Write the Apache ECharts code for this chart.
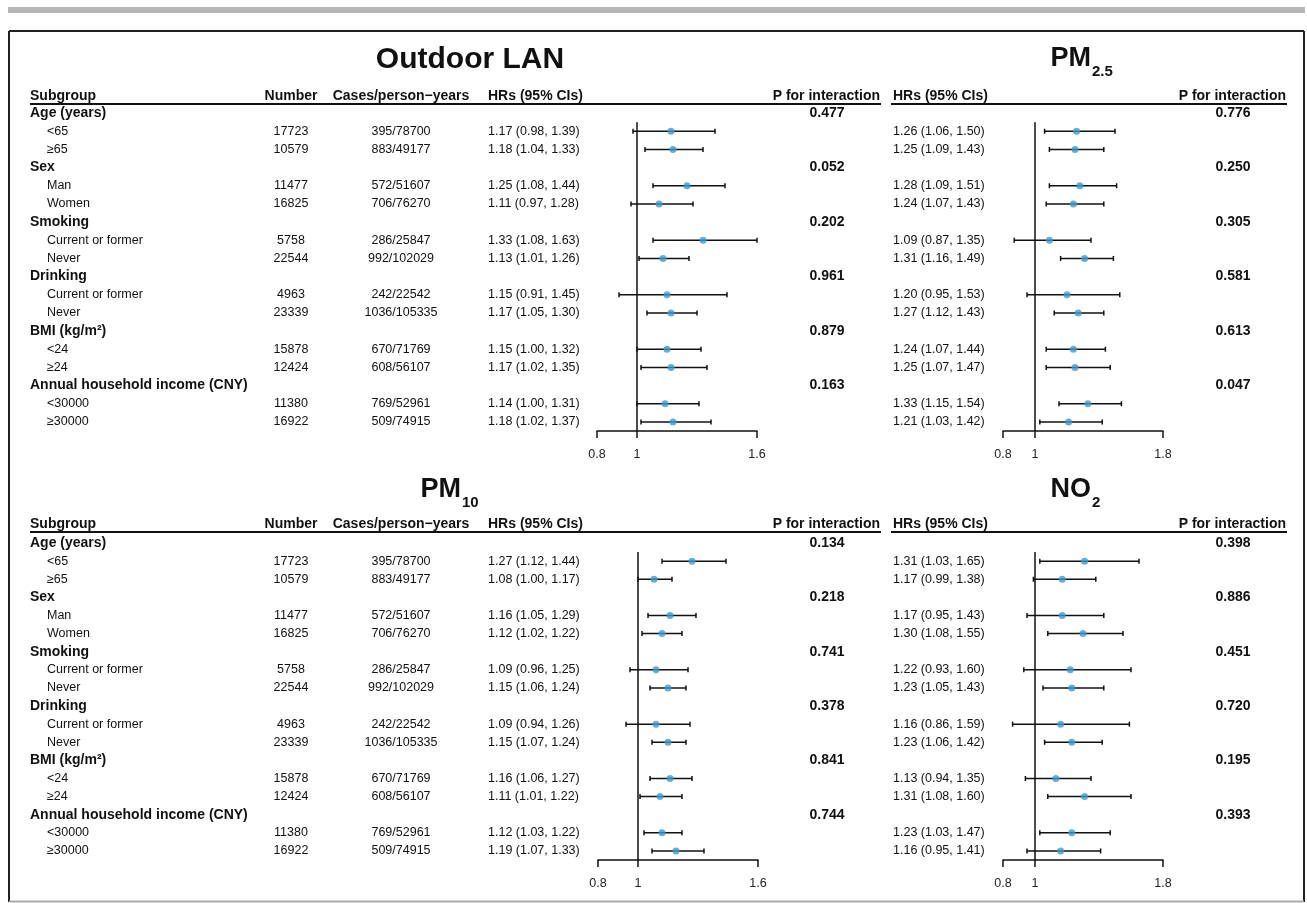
<!DOCTYPE html>
<html>
<head>
<meta charset="utf-8">
<script src="https://cdn.jsdelivr.net/npm/echarts@6/dist/echarts.min.js"></script>
<style>
html, body { margin: 0; padding: 0; background: #fff; }
#main { width: 1307px; height: 903px; }
</style>
</head>
<body>
<div id="main"></div>
<script>
// table rows (shared by all four panels)
var subgroups = ['Age (years)', '<65', '≥65', 'Sex', 'Man', 'Women', 'Smoking', 'Current or former', 'Never',
    'Drinking', 'Current or former', 'Never', 'BMI (kg/m²)', '<24', '≥24', 'Annual household income (CNY)', '<30000', '≥30000'];
var numbers = ['', '17723', '10579', '', '11477', '16825', '', '5758', '22544', '', '4963', '23339', '', '15878', '12424', '', '11380', '16922'];
var cases = ['', '395/78700', '883/49177', '', '572/51607', '706/76270', '', '286/25847', '992/102029', '',
    '242/22542', '1036/105335', '', '670/71769', '608/56107', '', '769/52961', '509/74915'];
var groupRows = [0, 3, 6, 9, 12, 15];

// Outdoor LAN
var lanHR   = [null, 1.17, 1.18, null, 1.25, 1.11, null, 1.33, 1.13, null, 1.15, 1.17, null, 1.15, 1.17, null, 1.14, 1.18];
var lanLow  = [null, 0.98, 1.04, null, 1.08, 0.97, null, 1.08, 1.01, null, 0.91, 1.05, null, 1.00, 1.02, null, 1.00, 1.02];
var lanHigh = [null, 1.39, 1.33, null, 1.44, 1.28, null, 1.63, 1.26, null, 1.45, 1.30, null, 1.32, 1.35, null, 1.31, 1.37];
var lanP = ['0.477', '0.052', '0.202', '0.961', '0.879', '0.163'];

// PM2.5
var pm25HR   = [null, 1.26, 1.25, null, 1.28, 1.24, null, 1.09, 1.31, null, 1.20, 1.27, null, 1.24, 1.25, null, 1.33, 1.21];
var pm25Low  = [null, 1.06, 1.09, null, 1.09, 1.07, null, 0.87, 1.16, null, 0.95, 1.12, null, 1.07, 1.07, null, 1.15, 1.03];
var pm25High = [null, 1.50, 1.43, null, 1.51, 1.43, null, 1.35, 1.49, null, 1.53, 1.43, null, 1.44, 1.47, null, 1.54, 1.42];
var pm25P = ['0.776', '0.250', '0.305', '0.581', '0.613', '0.047'];

// PM10
var pm10HR   = [null, 1.27, 1.08, null, 1.16, 1.12, null, 1.09, 1.15, null, 1.09, 1.15, null, 1.16, 1.11, null, 1.12, 1.19];
var pm10Low  = [null, 1.12, 1.00, null, 1.05, 1.02, null, 0.96, 1.06, null, 0.94, 1.07, null, 1.06, 1.01, null, 1.03, 1.07];
var pm10High = [null, 1.44, 1.17, null, 1.29, 1.22, null, 1.25, 1.24, null, 1.26, 1.24, null, 1.27, 1.22, null, 1.22, 1.33];
var pm10P = ['0.134', '0.218', '0.741', '0.378', '0.841', '0.744'];

// NO2
var no2HR   = [null, 1.31, 1.17, null, 1.17, 1.30, null, 1.22, 1.23, null, 1.16, 1.23, null, 1.13, 1.31, null, 1.23, 1.16];
var no2Low  = [null, 1.03, 0.99, null, 0.95, 1.08, null, 0.93, 1.05, null, 0.86, 1.06, null, 0.94, 1.08, null, 1.03, 0.95];
var no2High = [null, 1.65, 1.38, null, 1.43, 1.55, null, 1.60, 1.43, null, 1.59, 1.42, null, 1.35, 1.60, null, 1.47, 1.41];
var no2P = ['0.398', '0.886', '0.451', '0.720', '0.195', '0.393'];

// axis tick labels
var ticksLeft = [0.8, 1, 1.6];
var ticksRight = [0.8, 1, 1.8];

var FONT = '"Liberation Sans", Arial, Helvetica, sans-serif';
var INK = '#111';
var DOT = '#3a9bd5';

var panels = [
    {hr: lanHR, lo: lanLow, hi: lanHigh, p: lanP, ticks: ticksLeft, grid: {left: 597, top: 104, width: 160, height: 327}, hrX: 488, pX: 827, table: true},
    {hr: pm25HR, lo: pm25Low, hi: pm25High, p: pm25P, ticks: ticksRight, grid: {left: 1003, top: 104, width: 160, height: 327}, hrX: 893, pX: 1233},
    {hr: pm10HR, lo: pm10Low, hi: pm10High, p: pm10P, ticks: ticksLeft, grid: {left: 598, top: 534, width: 160, height: 326}, hrX: 488, pX: 827, table: true},
    {hr: no2HR, lo: no2Low, hi: no2High, p: no2P, ticks: ticksRight, grid: {left: 1003, top: 534, width: 160, height: 326}, hrX: 893, pX: 1233}
];

function textSeries(g, items, x, align, font) {
    return {
        type: 'custom', xAxisIndex: g, yAxisIndex: g, silent: true, clip: false, z: 3,
        data: items.map(function (it) { return [1, it.row]; }),
        renderItem: function (params, api) {
            var it = items[params.dataIndex];
            var y = api.coord([1, api.value(1)])[1];
            return {type: 'text', x: x, y: y, style: {text: it.text, font: font, fill: INK, align: align, verticalAlign: 'middle'}};
        }
    };
}

var grids = [], xAxes = [], yAxes = [], series = [];
var boldFont = 'bold 14px ' + FONT;
var rowFont = '12.5px ' + FONT;

panels.forEach(function (pn, g) {
    var tmin = pn.ticks[0], tmax = pn.ticks[pn.ticks.length - 1];
    grids.push(pn.grid);
    xAxes.push({
        gridIndex: g, type: 'value', min: tmin, max: tmax,
        axisLine: {show: true, onZero: false, lineStyle: {color: INK, width: 1.5}},
        axisTick: {show: true, customValues: pn.ticks, length: 7, inside: false, lineStyle: {color: INK, width: 1.5}},
        axisLabel: {customValues: pn.ticks, color: '#222', fontSize: 12.5, fontFamily: FONT, margin: 17},
        splitLine: {show: false}
    });
    yAxes.push({gridIndex: g, type: 'value', min: -0.5, max: 17.5, inverse: true, show: false});

    var rows = [];
    pn.hr.forEach(function (v, i) { if (v !== null) rows.push(i); });

    // reference line at HR = 1
    series.push({
        type: 'line', xAxisIndex: g, yAxisIndex: g, silent: true, symbol: 'none', z: 2,
        data: [[1, 0.5], [1, 17.5]],
        lineStyle: {color: INK, width: 1.5}
    });
    // confidence intervals
    series.push({
        type: 'custom', xAxisIndex: g, yAxisIndex: g, silent: true, clip: false, z: 4,
        data: rows.map(function (i) { return [pn.lo[i], pn.hi[i], i]; }),
        encode: {x: [0, 1], y: 2},
        renderItem: function (params, api) {
            var r = api.value(2);
            var a = api.coord([Math.max(api.value(0), tmin), r]);
            var b = api.coord([Math.min(api.value(1), tmax), r]);
            var st = {stroke: INK, lineWidth: 1.5};
            return {type: 'group', children: [
                {type: 'line', shape: {x1: a[0], y1: a[1], x2: b[0], y2: b[1]}, style: st},
                {type: 'line', shape: {x1: a[0], y1: a[1] - 2.5, x2: a[0], y2: a[1] + 2.5}, style: st},
                {type: 'line', shape: {x1: b[0], y1: b[1] - 2.5, x2: b[0], y2: b[1] + 2.5}, style: st}
            ]};
        }
    });
    // point estimates
    series.push({
        type: 'scatter', xAxisIndex: g, yAxisIndex: g, silent: true, z: 5,
        symbolSize: 7, itemStyle: {color: DOT},
        data: rows.map(function (i) { return [pn.hr[i], i]; })
    });

    // HR text
    series.push(textSeries(g, rows.map(function (i) {
        return {row: i, text: pn.hr[i].toFixed(2) + ' (' + pn.lo[i].toFixed(2) + ', ' + pn.hi[i].toFixed(2) + ')'};
    }), pn.hrX, 'left', rowFont));
    // P for interaction
    series.push(textSeries(g, groupRows.map(function (r, k) {
        return {row: r, text: pn.p[k]};
    }), pn.pX, 'center', boldFont));

    if (pn.table) {
        series.push(textSeries(g, groupRows.map(function (r) {
            return {row: r, text: subgroups[r]};
        }), 30, 'left', boldFont));
        series.push(textSeries(g, rows.map(function (i) {
            return {row: i, text: subgroups[i]};
        }), 47, 'left', rowFont));
        series.push(textSeries(g, rows.map(function (i) {
            return {row: i, text: numbers[i]};
        }), 291, 'center', rowFont));
        series.push(textSeries(g, rows.map(function (i) {
            return {row: i, text: cases[i]};
        }), 401, 'center', rowFont));
    }
});

// static layout: frame, titles, headers
var graphics = [
    {type: 'rect', shape: {x: 8, y: 7, width: 1297, height: 6}, style: {fill: '#b5b5b5'}},
    {type: 'line', shape: {x1: 9, y1: 31, x2: 1304, y2: 31}, style: {stroke: '#222', lineWidth: 2}},
    {type: 'line', shape: {x1: 9, y1: 31, x2: 9, y2: 902}, style: {stroke: '#222', lineWidth: 2}},
    {type: 'line', shape: {x1: 1304, y1: 31, x2: 1304, y2: 902}, style: {stroke: '#222', lineWidth: 2}},
    {type: 'line', shape: {x1: 9, y1: 901.5, x2: 1304, y2: 901.5}, style: {stroke: '#aaa', lineWidth: 2}}
];

function txt(x, y, text, font, align) {
    graphics.push({type: 'text', x: x, y: y, style: {text: text, font: font, fill: INK, align: align || 'left', verticalAlign: 'middle'}});
}
var titleFont = 'bold 27px ' + FONT;
var subFont = 'bold 15px ' + FONT;
txt(470, 60, 'Outdoor LAN', 'bold 30px ' + FONT, 'center');
txt(1091, 59, 'PM', titleFont, 'right');
txt(1092, 72, '2.5', subFont, 'left');
txt(461, 490, 'PM', titleFont, 'right');
txt(462, 503, '10', subFont, 'left');
txt(1091, 490, 'NO', titleFont, 'right');
txt(1092, 503, '2', subFont, 'left');

[96, 524].forEach(function (hy) {
    txt(30, hy, 'Subgroup', boldFont, 'left');
    txt(291, hy, 'Number', boldFont, 'center');
    txt(401, hy, 'Cases/person\u2212years', boldFont, 'center');
    txt(488, hy, 'HRs (95% CIs)', boldFont, 'left');
    txt(880, hy, 'P for interaction', boldFont, 'right');
    txt(893, hy, 'HRs (95% CIs)', boldFont, 'left');
    txt(1286, hy, 'P for interaction', boldFont, 'right');
    graphics.push({type: 'line', shape: {x1: 30, y1: hy + 8, x2: 881, y2: hy + 8}, style: {stroke: INK, lineWidth: 2}});
    graphics.push({type: 'line', shape: {x1: 891, y1: hy + 8, x2: 1287, y2: hy + 8}, style: {stroke: INK, lineWidth: 2}});
});

var chart = echarts.init(document.getElementById('main'), null, {renderer: 'canvas'});
chart.setOption({
    animation: false,
    backgroundColor: '#fff',
    textStyle: {fontFamily: FONT},
    grid: grids,
    xAxis: xAxes,
    yAxis: yAxes,
    series: series,
    graphic: {elements: graphics}
});
</script>
</body>
</html>
